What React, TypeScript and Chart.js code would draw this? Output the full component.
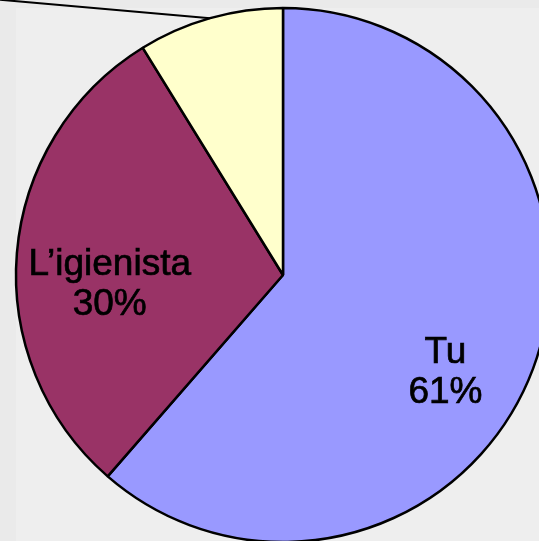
import React, { useEffect, useRef } from "react";
import { Chart, registerables } from "chart.js";

Chart.register(...registerables);

const categories = ["Tu", "L’igienista", "Il dentista"];
const values = [61.4, 29.8, 8.8];
const colors = ["#9999ff", "#993366", "#ffffcc"];

export default function App() {
  const ref = useRef<HTMLCanvasElement | null>(null);

  useEffect(() => {
    if (!ref.current) return;
    const labelPlugin = {
      id: "sliceLabels",
      afterDatasetsDraw(chart: any) {
        const ctx = chart.ctx;
        const meta = chart.getDatasetMeta(0);
        const total = values.reduce((a, b) => a + b, 0);
        // per-slice label placement: radial fraction and angle adjustment (deg)
        const place = [
          { f: 0.71, da: 10.5 },
          { f: 0.65, da: -8 },
          null,
        ];
        ctx.save();
        meta.data.forEach((arc: any, i: number) => {
          const p = arc.getProps(["x", "y", "startAngle", "endAngle", "outerRadius"], true);
          const mid = (p.startAngle + p.endAngle) / 2;
          const pl = place[i];
          if (pl) {
            const a = mid + (pl.da * Math.PI) / 180;
            const cx = p.x + Math.cos(a) * p.outerRadius * pl.f;
            const cy = p.y + Math.sin(a) * p.outerRadius * pl.f;
            ctx.fillStyle = "#000";
            ctx.strokeStyle = "#000";
            ctx.lineWidth = 0.7;
            ctx.font = "37px 'Liberation Sans', Arial, sans-serif";
            ctx.textAlign = "center";
            ctx.textBaseline = "middle";
            const pct = Math.round((values[i] / total) * 100) + "%";
            ctx.fillText(categories[i], cx, cy - 20);
            ctx.strokeText(categories[i], cx, cy - 20);
            ctx.fillText(pct, cx, cy + 20);
            ctx.strokeText(pct, cx, cy + 20);
          } else {
            // leader line toward an external label
            const sx = p.x + Math.cos(mid) * p.outerRadius;
            const sy = p.y + Math.sin(mid) * p.outerRadius;
            ctx.strokeStyle = "#000";
            ctx.lineWidth = 2;
            ctx.beginPath();
            ctx.moveTo(sx, sy);
            ctx.lineTo(sx - 240, sy - 21);
            ctx.stroke();
          }
        });
        ctx.restore();
      },
    };

    const chart = new Chart(ref.current, {
      type: "pie",
      data: {
        labels: categories,
        datasets: [
          {
            data: values,
            backgroundColor: colors,
            borderColor: "#000000",
            borderWidth: 2.5,
          },
        ],
      },
      options: {
        responsive: false,
        animation: false,
        devicePixelRatio: 1,
        radius: 267,
        layout: { padding: 0 },
        plugins: {
          legend: { display: false },
          tooltip: { enabled: false },
          title: { display: false },
        },
      },
      plugins: [labelPlugin],
    });
    return () => chart.destroy();
  }, []);

  return (
    <div
      style={{
        position: "fixed",
        left: 0,
        top: 0,
        width: 539,
        height: 541,
        overflow: "hidden",
        background: "#eaeaea",
      }}
    >
      <div
        style={{
          position: "absolute",
          left: 16,
          top: 8,
          right: 0,
          bottom: 0,
          background: "#eeeeee",
        }}
      />
      <canvas
        ref={ref}
        width={566}
        height={550}
        style={{ position: "absolute", left: 0, top: 0, width: 566, height: 550 }}
      />
    </div>
  );
}
